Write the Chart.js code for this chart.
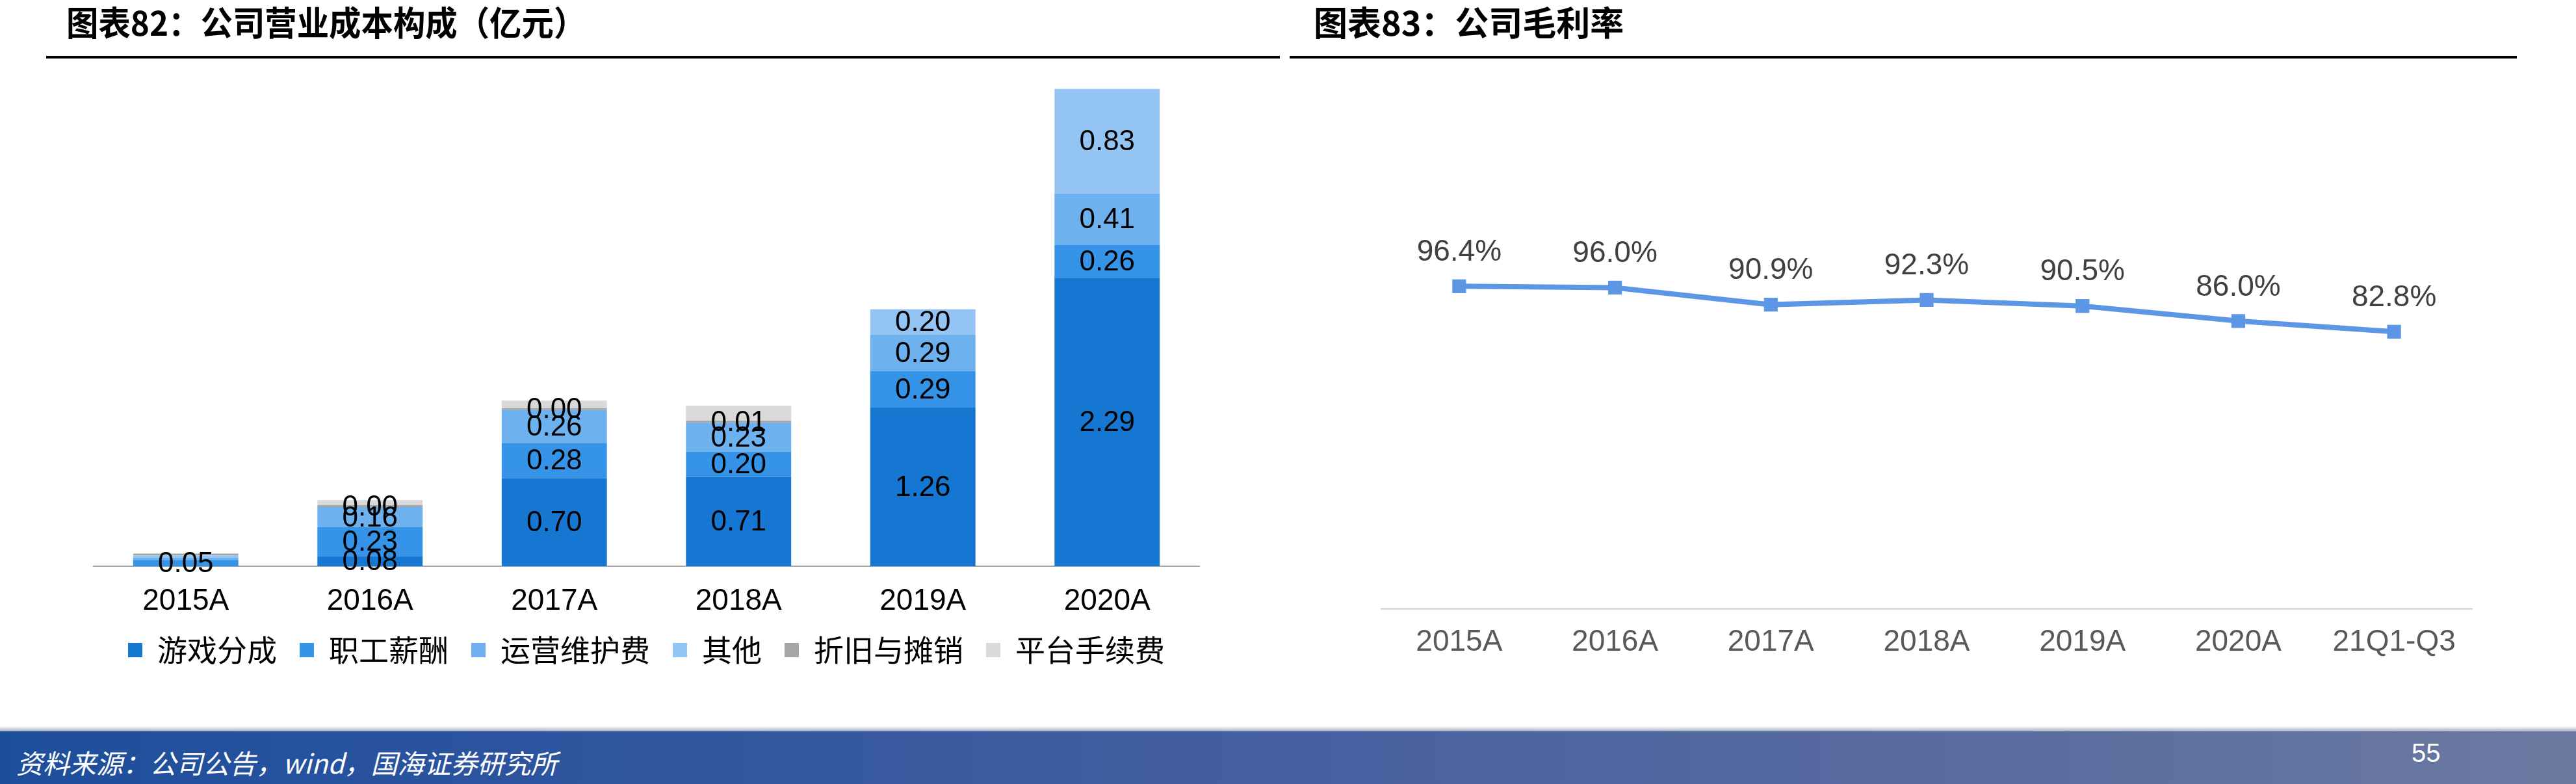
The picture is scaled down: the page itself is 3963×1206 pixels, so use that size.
<!DOCTYPE html>
<html lang="zh-CN">
<head>
<meta charset="utf-8">
<title>公司营业成本构成 / 公司毛利率</title>
<script src="https://cdn.jsdelivr.net/npm/chart.js@4.4.1/dist/chart.umd.min.js"></script>
<style>
  html, body { margin: 0; padding: 0; background: #fff; }
  body { width: 3963px; height: 1206px; position: relative; overflow: hidden; font-family: "Liberation Sans", Arial, sans-serif; }
  .title { position: absolute; top: 7px; font-family: "Noto Sans CJK SC", sans-serif; font-weight: 700; font-size: 52px; line-height: 52px; color: #000; white-space: nowrap; transform-origin: left top; }
  .rule { position: absolute; top: 86px; height: 4px; background: #000; }
  canvas { position: absolute; top: 0; }
  #costChart { left: 0; }
  #marginChart { left: 1980px; }
  .shade { position: absolute; left: 0; top: 1117px; width: 3963px; height: 8px; background: linear-gradient(to bottom, rgba(255,255,255,0), rgba(90,110,150,0.55)); }
  .footer { position: absolute; left: 0; top: 1125px; width: 3963px; height: 81px; background: linear-gradient(to right, #1d4e9c 0%, #34579f 30%, #4a62a0 55%, #5c6ea0 80%, #6c7aa1 100%); }
  .source { position: absolute; left: 25px; top: 1148px; font-family: "Noto Sans CJK SC", sans-serif; font-style: italic; font-size: 41px; line-height: 48px; color: #fff; white-space: nowrap; }
  .page { position: absolute; left: 3710px; top: 1136px; font-size: 40px; line-height: 44px; color: #fff; }
</style>
</head>
<body>
<div class="title" style="left:102px;transform:scaleX(0.95)">图表82：公司营业成本构成（亿元）</div>
<div class="title" style="left:2021px">图表83：公司毛利率</div>
<div class="rule" style="left:71px;width:1898px"></div>
<div class="rule" style="left:1984px;width:1888px"></div>

<canvas id="costChart" width="1966" height="1100"></canvas>
<canvas id="marginChart" width="1983" height="1100"></canvas>

<div class="shade"></div>
<div class="footer"></div>
<div class="source">资料来源：公司公告，wind，国海证券研究所</div>
<div class="page">55</div>

<script>
// 营业成本构成（亿元）
const costYears = ['2015A', '2016A', '2017A', '2018A', '2019A', '2020A'];
const gameShare = [null, 0.08, 0.70, 0.71, 1.26, 2.29];
const staffPay = [0.05, 0.23, 0.28, 0.20, 0.29, 0.26];
const opsCost = [0.02, 0.16, 0.26, 0.23, 0.29, 0.41];
const otherCost = [0.015, null, null, null, 0.20, 0.83];
const depreciation = [0.003, 0.004, 0.004, 0.012, null, null];
const platformFee = [null, 0.04, 0.06, 0.12, null, null];

// 毛利率（%）
const marginYears = ['2015A', '2016A', '2017A', '2018A', '2019A', '2020A', '21Q1-Q3'];
const grossMargin = [96.4, 96.0, 90.9, 92.3, 90.5, 86.0, 82.8];

const numFont = '"Liberation Sans", Arial, sans-serif';
const cjkFont = '"Noto Sans CJK SC", sans-serif';

// segments whose value is not written on the bar: [dataset, index]
const noLabel = [[2, 0], [3, 0], [4, 0]];

const segmentLabels = {
    id: 'segmentLabels',
    afterDatasetsDraw(chart) {
        const c = chart.ctx;
        c.save();
        c.font = '44px ' + numFont;
        c.fillStyle = '#000';
        c.textAlign = 'center';
        c.textBaseline = 'middle';
        chart.data.datasets.forEach((ds, di) => {
            if (ds.noLabels) return;
            chart.getDatasetMeta(di).data.forEach((bar, i) => {
                const v = ds.data[i];
                if (v == null) return;
                if (noLabel.some(p => p[0] === di && p[1] === i)) return;
                const pt = bar.getCenterPoint();
                c.fillText(v.toFixed(2), pt.x, pt.y + 2);
            });
        });
        c.restore();
    }
};

const pointLabels = {
    id: 'pointLabels',
    afterDatasetsDraw(chart) {
        const c = chart.ctx;
        c.save();
        c.font = '46px ' + numFont;
        c.fillStyle = '#404040';
        c.textAlign = 'center';
        c.textBaseline = 'middle';
        const ds = chart.data.datasets[0];
        chart.getDatasetMeta(0).data.forEach((pt, i) => {
            c.fillText(ds.data[i].toFixed(1) + '%', pt.x, pt.y - 52);
        });
        c.restore();
    }
};

function barSet(label, data, color) {
    return {
        label: label,
        data: data,
        backgroundColor: color,
        borderWidth: 0,
        barPercentage: 0.571,
        categoryPercentage: 1.0
    };
}

const costCtx = document.getElementById('costChart').getContext('2d');
const costChart = new Chart(costCtx, {
    type: 'bar',
    data: {
        labels: costYears,
        datasets: [
            barSet('游戏分成', gameShare, '#1677d3'),
            barSet('职工薪酬', staffPay, '#3594e8'),
            barSet('运营维护费', opsCost, '#6db2ef'),
            barSet('其他', otherCost, '#93c4f3'),
            Object.assign(barSet('折旧与摊销', depreciation, '#a6a6a6'), { minBarLength: 3 }),
            Object.assign(barSet('平台手续费', platformFee, '#d9d9d9'), { noLabels: true })
        ]
    },
    options: {
        responsive: false,
        animation: false,
        devicePixelRatio: 1,
        layout: { padding: { left: 144, right: 121, top: 96, bottom: 67 } },
        plugins: {
            legend: {
                position: 'bottom',
                labels: {
                    boxWidth: 22,
                    boxHeight: 22,
                    padding: 35,
                    color: '#000',
                    font: { size: 46, family: cjkFont }
                }
            },
            tooltip: { enabled: false }
        },
        scales: {
            x: {
                stacked: true,
                grid: { display: false, drawTicks: false },
                border: { color: '#a6a6a6', width: 2 },
                ticks: { color: '#000', padding: 34, font: { size: 46, family: numFont, lineHeight: 0.9 } },
                afterFit: axis => { axis.height = 71; }
            },
            y: { stacked: true, display: false, min: 0, max: 4 }
        }
    },
    plugins: [segmentLabels]
});

const marginCtx = document.getElementById('marginChart').getContext('2d');
const marginChart = new Chart(marginCtx, {
    type: 'line',
    data: {
        labels: marginYears,
        datasets: [{
            label: '毛利率',
            data: grossMargin,
            borderColor: '#5e96e6',
            backgroundColor: '#5e96e6',
            borderWidth: 8,
            pointStyle: 'rect',
            pointRadius: 15,
            pointBorderWidth: 0,
            tension: 0
        }]
    },
    options: {
        responsive: false,
        animation: false,
        devicePixelRatio: 1,
        layout: { padding: { left: 145, right: 160, top: 319, bottom: 90 } },
        plugins: {
            legend: { display: false },
            tooltip: { enabled: false }
        },
        scales: {
            x: {
                offset: true,
                grid: { display: false, drawTicks: false },
                border: { color: '#d9d9d9', width: 3 },
                ticks: { color: '#595959', padding: 32, font: { size: 46, family: numFont, lineHeight: 0.9 } },
                afterFit: axis => { axis.height = 74; }
            },
            y: { display: false, min: 0, max: 120 }
        }
    },
    plugins: [pointLabels]
});
</script>
</body>
</html>
